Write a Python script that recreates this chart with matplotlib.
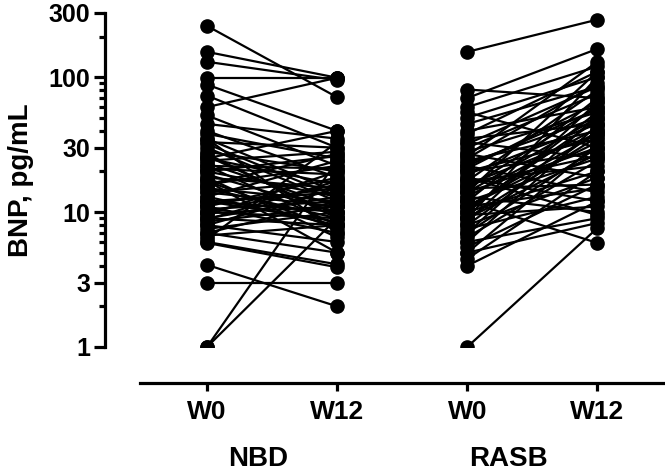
import numpy as np
import matplotlib.pyplot as plt
from matplotlib.ticker import FixedLocator, NullFormatter

plt.rcParams['font.family'] = ['Liberation Sans', 'DejaVu Sans']
plt.rcParams['font.weight'] = 'bold'

# Data (BNP, pg/mL), paired W0 -> W12 per patient ##############################
nbd_w0 = [240, 154, 130, 99, 88, 73, 60, 52, 45, 40, 38, 35, 33, 30, 28, 27,
          25, 24, 23, 22, 21, 20, 20, 19, 18, 17, 16, 15, 15, 14, 14, 13, 13,
          12, 12, 11, 11, 10.5, 10, 10, 9.5, 9, 9, 8.5, 8, 8, 7.5, 7, 7, 6.7,
          6.3, 6, 5.9, 4.06, 3.0, 1, 1, 17, 25, 35, 32, 26, 22, 18, 16, 12,
          11.5, 9.8, 8.8]
nbd_w12 = [71, 99, 95, 99, 40, 30, 99, 22, 35, 18, 25, 14, 30, 12, 20, 9,
           16, 28, 11, 8, 19, 13, 26, 10, 15, 7.5, 22, 12, 9, 17, 11, 8, 24,
           14, 10, 18, 7, 12, 16, 9, 20, 13, 8, 11, 15, 6, 10, 12, 5, 8,
           33, 4.1, 3.9, 2.0, 3.0, 24, 9, 5, 40, 7, 13, 9.5, 21, 6.5, 27, 8.5,
           15, 11, 17]

rasb_w0 = [154, 81, 70, 60, 55, 50, 45, 40, 38, 35, 33, 30, 28, 27, 25, 24,
           23, 22, 21, 20, 20, 19, 18, 17, 17, 16, 15, 15, 14, 14, 13, 13, 12,
           12, 11, 11, 10.5, 10, 10, 9.5, 9, 9, 8.5, 8, 8, 7.5, 7, 7, 6.5, 6,
           6, 5.5, 5, 5, 4.5, 4, 1, 12, 18, 26, 32, 9, 14, 22, 16, 11]
rasb_w12 = [267, 70, 162, 120, 30, 100, 85, 60, 110, 45, 25, 75, 55, 18, 90,
            40, 50, 14, 65, 35, 28, 45, 12, 80, 22, 38, 60, 16, 30, 50, 10,
            42, 25, 70, 33, 15, 48, 20, 55, 11, 36, 27, 65, 18, 40, 13, 30,
            52, 24, 9, 44, 16, 32, 8.3, 20, 12, 7.6, 5.9, 9.5, 130, 85, 100,
            110, 58, 26, 38]

x_pos = [0, 1, 2, 3]
x_labels = ['W0', 'W12', 'W0', 'W12']
groups = ['NBD', 'RASB']
y_ticks = [1, 3, 10, 30, 100, 300]

# Plot ########################################################################
fig = plt.figure(figsize=(6.65, 4.74), dpi=100)
ax = fig.add_axes([0.2105, 0.268, 0.7895, 0.705])

for a, b in zip(nbd_w0, nbd_w12):
    ax.plot([x_pos[0], x_pos[1]], [a, b], color='k', lw=1.6,
            marker='o', ms=9.5, solid_capstyle='round')
for a, b in zip(rasb_w0, rasb_w12):
    ax.plot([x_pos[2], x_pos[3]], [a, b], color='k', lw=1.6,
            marker='o', ms=9.5, solid_capstyle='round')

ax.set_yscale('log')
ax.set_ylim(1, 300)
ax.set_xlim(-0.515, 3.52)

ax.yaxis.set_major_locator(FixedLocator(y_ticks))
ax.set_yticklabels([str(t) for t in y_ticks])
minor = [m * 10 ** d for d in range(0, 3) for m in range(2, 10)
         if m * 10 ** d < 300 and m * 10 ** d not in y_ticks]
ax.yaxis.set_minor_locator(FixedLocator(minor))
ax.yaxis.set_minor_formatter(NullFormatter())

ax.set_xticks(x_pos)
ax.set_xticklabels(x_labels)

for s in ['top', 'right']:
    ax.spines[s].set_visible(False)
ax.spines['left'].set_position(('outward', 25))
ax.spines['bottom'].set_position(('outward', 26))
for s in ['left', 'bottom']:
    ax.spines[s].set_linewidth(2.3)

ax.tick_params(axis='y', which='major', length=8, width=2.3, labelsize=18, pad=3)
ax.tick_params(axis='y', which='minor', length=4.5, width=2.3)
ax.tick_params(axis='x', which='major', length=6, width=2.3, labelsize=19, pad=6)
for lbl in ax.get_xticklabels() + ax.get_yticklabels():
    lbl.set_fontweight('bold')

ax.set_ylabel('BNP, pg/mL', fontsize=20, fontweight='bold', labelpad=10)

# Group labels
fig.text(258 / 665, 1 - 459 / 474, groups[0], fontsize=20, fontweight='bold',
         ha='center', va='center')
fig.text(508 / 665, 1 - 459 / 474, groups[1], fontsize=20, fontweight='bold',
         ha='center', va='center')

fig.savefig('out.png', dpi=100)
plt.close()
